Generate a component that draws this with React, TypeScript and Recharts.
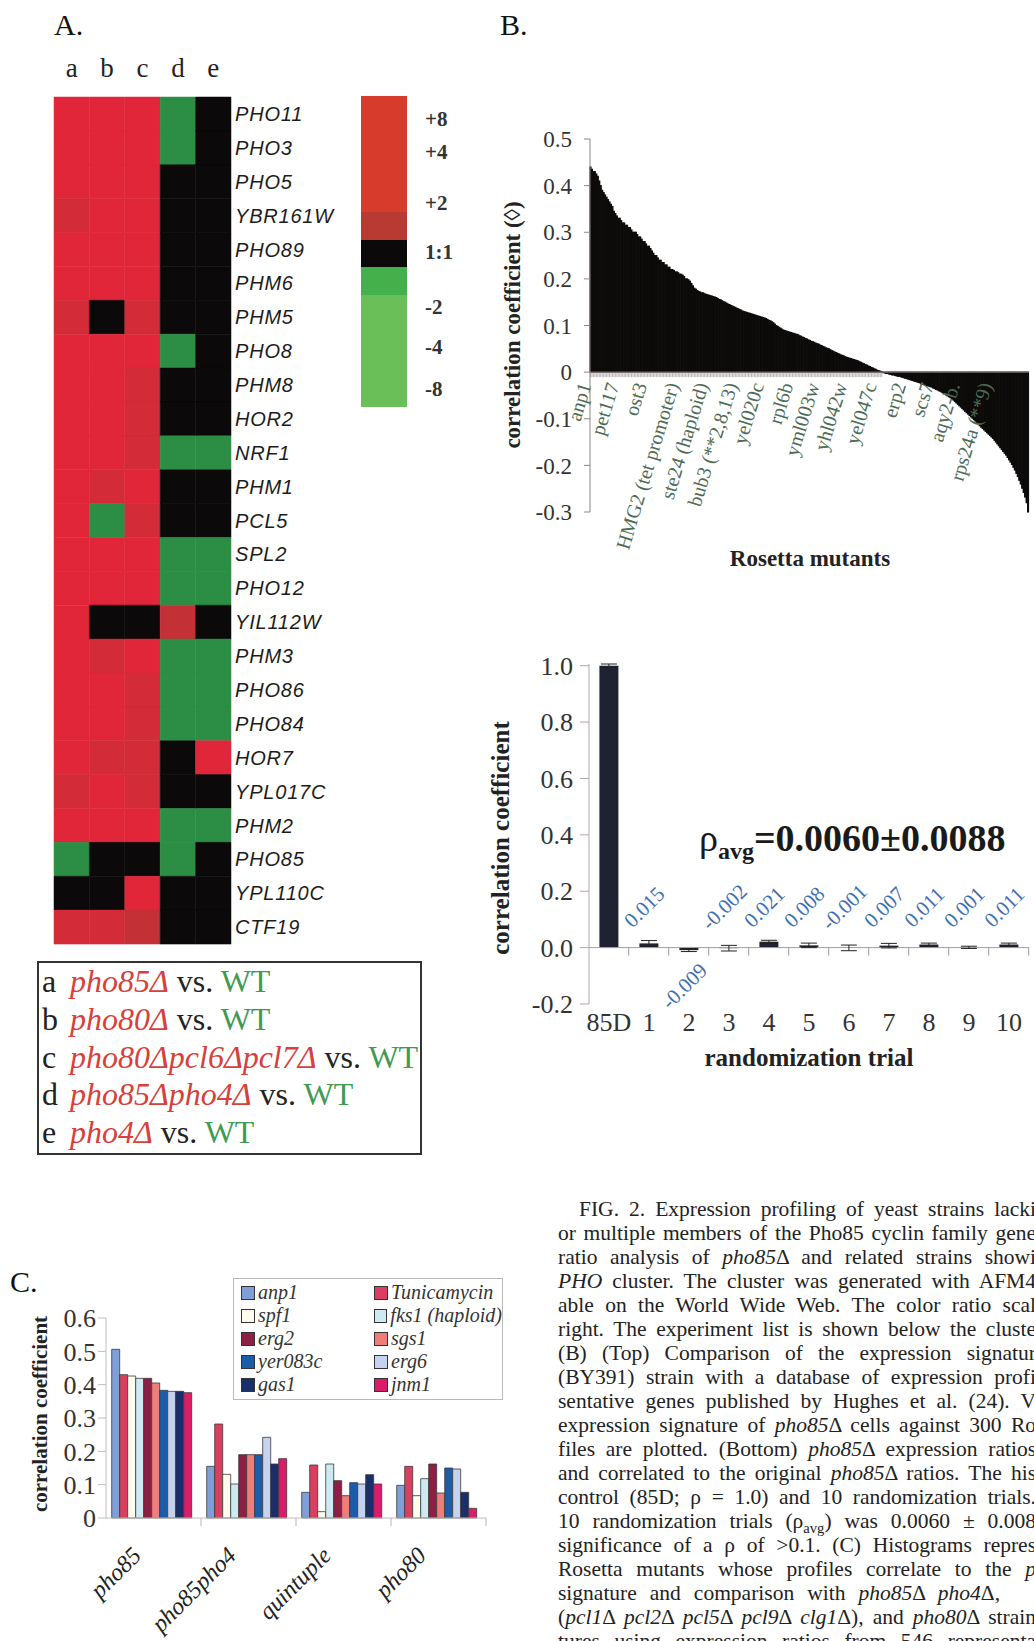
import React from 'react';
import {
  Bar,
  BarChart,
  Cell,
  ErrorBar,
  LabelList,
  Legend,
  ReferenceLine,
  XAxis,
  YAxis,
} from 'recharts';

const SERIF = '"Liberation Serif", "Times New Roman", Times, serif';
const SANS = '"Liberation Sans", Arial, Helvetica, sans-serif';

// ---------- A. PHO cluster ----------
const heatGenes = [
  'PHO11', 'PHO3', 'PHO5', 'YBR161W', 'PHO89', 'PHM6', 'PHM5', 'PHO8', 'PHM8',
  'HOR2', 'NRF1', 'PHM1', 'PCL5', 'SPL2', 'PHO12', 'YIL112W', 'PHM3', 'PHO86',
  'PHO84', 'HOR7', 'YPL017C', 'PHM2', 'PHO85', 'YPL110C', 'CTF19',
];
const heatExperiments = ['a', 'b', 'c', 'd', 'e'];
// ratio class per gene: R induced, r / q weaker induction, K 1:1, G repressed
const colA = ['R','R','R','r','R','R','r','R','R','R','R','R','R','R','R','R','R','R','R','R','r','R','G','K','r'];
const colB = ['R','R','R','R','R','R','K','R','R','R','R','r','G','R','R','K','r','R','R','r','R','R','K','K','r'];
const colC = ['R','R','R','R','R','R','r','R','r','r','r','R','r','R','R','K','R','r','r','r','r','R','K','R','q'];
const colD = ['G','G','K','K','K','K','K','G','K','K','G','K','K','G','G','q','G','G','G','K','K','G','G','K','K'];
const colE = ['K','K','K','K','K','K','K','K','K','K','G','K','K','G','G','K','G','G','G','R','K','G','K','K','K'];
const heatCols = [colA, colB, colC, colD, colE];
const heatColor: Record<string, string> = {
  R: '#e2263a',
  r: '#d32b38',
  q: '#c33036',
  K: '#0b0909',
  G: '#2c8e45',
};

// colour ratio scale, bottom to top
const scaleBandColors = ['#6abf58', '#43b04b', '#0b0909', '#b93a33', '#d63b2c'];
const scaleBandSpans = [112, 28, 27, 28, 116];
const scaleTickValues = [18, 60, 100, 155, 204, 255, 288];
const scaleTickLabels = ['-8', '-4', '-2', '1:1', '+2', '+4', '+8'];

const strainKeys = ['a', 'b', 'c', 'd', 'e'];
const strainNames = ['pho85Δ', 'pho80Δ', 'pho80Δpcl6Δpcl7Δ', 'pho85Δpho4Δ', 'pho4Δ'];

// ---------- B (top). pho85Δ vs 300 Rosetta profiles, sorted ----------
const mutantCorr = [
  0.44, 0.435, 0.43, 0.43, 0.425, 0.42, 0.41, 0.40, 0.39, 0.385,
  0.38, 0.375, 0.37, 0.365, 0.36, 0.355, 0.345, 0.34, 0.335, 0.33,
  0.33, 0.325, 0.32, 0.32, 0.315, 0.315, 0.31, 0.31, 0.305, 0.30,
  0.30, 0.30, 0.295, 0.29, 0.29, 0.285, 0.28, 0.28, 0.275, 0.27,
  0.27, 0.265, 0.26, 0.255, 0.25, 0.25, 0.245, 0.24, 0.24, 0.235,
  0.235, 0.23, 0.23, 0.225, 0.225, 0.22, 0.22, 0.218, 0.215, 0.215,
  0.213, 0.21, 0.21, 0.208, 0.205, 0.20, 0.20, 0.198, 0.195, 0.19,
  0.185, 0.18, 0.178, 0.175, 0.173, 0.172, 0.17, 0.17, 0.168, 0.167,
  0.166, 0.165, 0.164, 0.163, 0.162, 0.161, 0.16, 0.158, 0.156, 0.155,
  0.153, 0.151, 0.15, 0.148, 0.146, 0.145, 0.143, 0.142, 0.14, 0.139,
  0.137, 0.136, 0.134, 0.133, 0.131, 0.13, 0.129, 0.128, 0.127, 0.126,
  0.125, 0.124, 0.123, 0.122, 0.121, 0.12, 0.119, 0.118, 0.117, 0.116,
  0.115, 0.113, 0.111, 0.11, 0.108, 0.106, 0.103, 0.1, 0.098, 0.096,
  0.094, 0.092, 0.09, 0.089, 0.088, 0.087, 0.086, 0.085, 0.084, 0.083,
  0.082, 0.081, 0.08, 0.078, 0.077, 0.075, 0.074, 0.072, 0.071, 0.069,
  0.068, 0.066, 0.065, 0.064, 0.062, 0.061, 0.06, 0.058, 0.057, 0.055,
  0.054, 0.052, 0.051, 0.05, 0.048, 0.046, 0.045, 0.043, 0.042, 0.04,
  0.039, 0.037, 0.036, 0.035, 0.033, 0.032, 0.031, 0.03, 0.029, 0.028,
  0.027, 0.026, 0.025, 0.024, 0.022, 0.021, 0.019, 0.018, 0.016, 0.015,
  0.013, 0.012, 0.01, 0.009, 0.007, 0.006, 0.004, 0.003, 0.002, 0.001,
  -0.001, -0.002, -0.003, -0.003, -0.004, -0.005, -0.006, -0.006, -0.007, -0.008,
  -0.009, -0.009, -0.01, -0.011, -0.012, -0.013, -0.014, -0.015, -0.016, -0.017,
  -0.018, -0.019, -0.02, -0.021, -0.022, -0.023, -0.025, -0.026, -0.027, -0.028,
  -0.029, -0.03, -0.031, -0.032, -0.034, -0.035, -0.037, -0.038, -0.04, -0.041,
  -0.043, -0.045, -0.047, -0.049, -0.051, -0.053, -0.055, -0.057, -0.06, -0.063,
  -0.066, -0.069, -0.072, -0.075, -0.078, -0.081, -0.084, -0.087, -0.09, -0.093,
  -0.096, -0.099, -0.102, -0.105, -0.108, -0.111, -0.115, -0.118, -0.121, -0.124,
  -0.127, -0.13, -0.133, -0.136, -0.139, -0.142, -0.146, -0.15, -0.154, -0.158,
  -0.162, -0.166, -0.17, -0.174, -0.178, -0.183, -0.188, -0.193, -0.198, -0.204,
  -0.21, -0.217, -0.224, -0.232, -0.24, -0.249, -0.258, -0.268, -0.28, -0.30,
];
const mutantLabelIndex = [0, 19, 38, 60, 80, 100, 118, 138, 156, 175, 195, 215, 234, 252, 274];
const mutantLabelNames = [
  'anp1', 'pet117', 'ost3', 'HMG2 (tet promoter)', 'ste24 (haploid)', 'bub3 (**2,8,13)',
  'yel020c', 'rpl6b', 'yml003w', 'yhl042w', 'yel047c', 'erp2', 'scs7', 'aqy2-b.', 'rps24a (**9)',
];
const mutantTicks = [-0.3, -0.2, -0.1, 0, 0.1, 0.2, 0.3, 0.4, 0.5];

// ---------- B (bottom). randomization trials ----------
const trialNames = ['85D', '1', '2', '3', '4', '5', '6', '7', '8', '9', '10'];
const trialCorr = [1.0, 0.015, -0.009, -0.002, 0.021, 0.008, -0.001, 0.007, 0.011, 0.001, 0.011];
const trialErr = [0.006, 0.01, 0.005, 0.01, 0.005, 0.008, 0.01, 0.008, 0.005, 0.004, 0.005];
const trialTicks = [-0.2, 0, 0.2, 0.4, 0.6, 0.8, 1.0];
const TRIAL_GAP = 0.26;

// ---------- C. top Rosetta hits vs related strains ----------
const strainGroups = ['pho85', 'pho85pho4', 'quintuple', 'pho80'];
const hitNames = ['anp1', 'Tunicamycin', 'spf1', 'fks1 (haploid)', 'erg2', 'sgs1', 'yer083c', 'erg6', 'gas1', 'jnm1'];
const hitColors = ['#7f9fd8', '#d9405f', '#fffcef', '#cdeaf3', '#8c1f43', '#ef7d79', '#1b5cab', '#c6d3ee', '#1a2e6a', '#d91d69'];
const anp1 = [0.506, 0.155, 0.077, 0.098];
const tunicamycin = [0.43, 0.282, 0.159, 0.155];
const spf1 = [0.426, 0.131, 0.019, 0.067];
const fks1 = [0.419, 0.102, 0.162, 0.118];
const erg2 = [0.419, 0.19, 0.112, 0.162];
const sgs1 = [0.405, 0.19, 0.067, 0.075];
const yer083c = [0.383, 0.19, 0.106, 0.15];
const erg6 = [0.38, 0.242, 0.102, 0.147];
const gas1 = [0.38, 0.162, 0.13, 0.077];
const jnm1 = [0.376, 0.178, 0.102, 0.029];
const hitValues = [anp1, tunicamycin, spf1, fks1, erg2, sgs1, yer083c, erg6, gas1, jnm1];
const hitTicks = [0, 0.1, 0.2, 0.3, 0.4, 0.5, 0.6];

const captionLines = [
  'FIG. 2. Expression profiling of yeast strains lacki',
  'or multiple members of the Pho85 cyclin family gene',
  'ratio analysis of *pho85*Δ and related strains showi',
  '*PHO* cluster. The cluster was generated with AFM4',
  'able on the World Wide Web. The color ratio scal',
  'right. The experiment list is shown below the cluste',
  '(B) (Top) Comparison of the expression signatur',
  '(BY391) strain with a database of expression profi',
  'sentative genes published by Hughes et al. (24). V',
  'expression signature of *pho85*Δ cells against 300 Ro',
  'files are plotted. (Bottom) *pho85*Δ expression ratios',
  'and correlated to the original *pho85*Δ ratios. The his',
  'control (85D; ρ = 1.0) and 10 randomization trials.',
  '10 randomization trials (ρ~avg~) was 0.0060 ± 0.008',
  'significance of a ρ of >0.1. (C) Histograms repres',
  'Rosetta mutants whose profiles correlate to the *p*',
  'signature and comparison with *pho85*Δ *pho4*Δ,',
  '(*pcl1*Δ *pcl2*Δ *pcl5*Δ *pcl9*Δ *clg1*Δ), and *pho80*Δ strain',
  'tures using expression ratios from 546 representa',
];

// ---------- derived tables ----------
const heatData = heatGenes.map((gene) => ({ gene, a: 1, b: 1, c: 1, d: 1, e: 1 }));
const scaleData = [
  scaleBandSpans.reduce<Record<string, number | string>>(
    (row, span, i) => ({ ...row, [`s${i}`]: span }),
    { key: 'ratio' },
  ),
];
const mutantData = mutantCorr.map((corr, i) => {
  const k = mutantLabelIndex.indexOf(i);
  return { idx: i, corr, label: k >= 0 ? mutantLabelNames[k] : '' };
});
const trialData = trialNames.map((trial, i) => ({ trial, value: trialCorr[i], err: trialErr[i] }));
const hitData = strainGroups.map((group, g) => {
  const row: Record<string, number | string> = { group };
  hitNames.forEach((n, s) => {
    row[n] = hitValues[s][g];
  });
  return row;
});

function rectOf(props: any) {
  const vb = props.viewBox && props.viewBox.width !== undefined ? props.viewBox : props;
  const { x, y, width, height } = vb;
  return { x: +x, y: +y, width: +width, height: +height, top: Math.min(y, y + height), bottom: Math.max(y, y + height) };
}

// small tick under each bar on the zero line, plus the sparse mutant names
function renderMutantMark(props: any) {
  const idx = props.index ?? 0;
  const r = rectOf(props);
  const v = mutantCorr[idx];
  const zeroY = v >= 0 ? r.bottom : r.top;
  const cx = r.x + r.width / 2;
  const name = props.value;
  return (
    <g key={`mm-${idx}`}>
      {v >= 0 && (
        <line x1={cx} x2={cx} y1={zeroY} y2={zeroY + 5} stroke="#8f8787" strokeWidth={0.6} />
      )}
      {name ? (
        <text
          transform={`translate(${cx + 1},${zeroY + 13}) rotate(-73)`}
          textAnchor="end"
          fontFamily={SERIF}
          fontSize={20}
          fill="#4e6b56"
        >
          {name}
        </text>
      ) : null}
    </g>
  );
}

function renderTrialMark(props: any) {
  const idx = props.index ?? 0;
  const r = rectOf(props);
  const v = trialCorr[idx];
  const zeroY = v >= 0 ? r.bottom : r.top;
  const cx = r.x + r.width / 2;
  const band = r.width / (1 - 2 * TRIAL_GAP);
  const below = v < -0.005;
  return (
    <g key={`tm-${idx}`}>
      <line x1={cx + band / 2} x2={cx + band / 2} y1={zeroY} y2={zeroY + 8} stroke="#a89c9c" strokeWidth={1} />
      {idx > 0 && (
        <text
          transform={`translate(${cx - 3},${below ? zeroY + 40 : zeroY - 39}) rotate(-45)`}
          textAnchor="middle"
          dominantBaseline="middle"
          fontFamily={SERIF}
          fontSize={21}
          fill="#3f6fae"
        >
          {v.toFixed(3)}
        </text>
      )}
    </g>
  );
}

function GroupTick(props: any) {
  const { x, y, payload } = props;
  const half = payload && payload.offset ? payload.offset : 47.5;
  return (
    <g>
      <line x1={x + half} x2={x + half} y1={y} y2={y + 8} stroke="#bdb3b3" strokeWidth={1} />
      <text
        transform={`translate(${x - 11},${y + 39}) rotate(-45)`}
        textAnchor="end"
        fontFamily={SERIF}
        fontStyle="italic"
        fontSize={24}
        fill="#222"
      >
        {payload.value}
      </text>
    </g>
  );
}

function HitLegend({ payload }: any) {
  const items = [...(payload || [])].sort(
    (a: any, b: any) => hitNames.indexOf(a.value) - hitNames.indexOf(b.value),
  );
  return (
    <div
      style={{
        display: 'grid',
        gridTemplateColumns: '133px 128px',
        border: '1px solid #b9b9b9',
        padding: '2px 0 3px 7px',
        background: '#fff',
        fontFamily: SERIF,
        fontStyle: 'italic',
        fontSize: 20,
        color: '#333',
      }}
    >
      {items.map((p: any) => (
        <div key={p.value} style={{ display: 'flex', alignItems: 'center', height: 23, whiteSpace: 'nowrap' }}>
          <span
            style={{
              display: 'inline-block',
              width: 12,
              height: 12,
              background: p.color,
              border: '1px solid #333',
              marginRight: 3,
            }}
          />
          {p.value}
        </div>
      ))}
    </div>
  );
}

function CaptionText({ text }: { text: string }) {
  const parts = text.split(/(\*[^*]+\*|~[^~]+~)/);
  return (
    <>
      {parts.map((p, i) => {
        if (p.startsWith('*')) return <i key={i}>{p.slice(1, -1)}</i>;
        if (p.startsWith('~')) return <sub key={i} style={{ fontSize: '0.68em', lineHeight: 0 }}>{p.slice(1, -1)}</sub>;
        return <React.Fragment key={i}>{p}</React.Fragment>;
      })}
    </>
  );
}

function AxisTitle({ x, y, size, rotate, children }: { x: number; y: number; size: number; rotate?: boolean; children: React.ReactNode }) {
  return (
    <div
      style={{
        position: 'absolute',
        left: x,
        top: y,
        transform: `translate(-50%,-50%)${rotate ? ' rotate(-90deg)' : ''}`,
        whiteSpace: 'nowrap',
        fontFamily: SERIF,
        fontWeight: 'bold',
        fontSize: size,
        lineHeight: 1,
        color: '#222',
      }}
    >
      {children}
    </div>
  );
}

const panelLetter = (text: string, left: number, top: number) => (
  <div style={{ position: 'absolute', left, top, fontFamily: SERIF, fontSize: 30, lineHeight: 1, color: '#111' }}>{text}</div>
);

export default function App() {
  return (
    <div
      style={{
        position: 'absolute',
        left: 0,
        top: 0,
        width: 1034,
        height: 1641,
        overflow: 'hidden',
        background: '#fff',
        fontFamily: SERIF,
      }}
    >
      {panelLetter('A.', 54, 10)}
      {panelLetter('B.', 500, 10)}
      {panelLetter('C.', 10, 1267)}

      {/* A: heat map */}
      <div style={{ position: 'absolute', left: 0, top: 40 }}>
        <BarChart
          width={340}
          height={920}
          data={heatData}
          layout="vertical"
          barCategoryGap={0}
          margin={{ top: 17, right: 0, bottom: 16, left: 54 }}
        >
          <XAxis
            type="number"
            orientation="top"
            domain={[0, 5]}
            ticks={[0.5, 1.5, 2.5, 3.5, 4.5]}
            tickFormatter={(v: number) => heatExperiments[Math.floor(v)]}
            axisLine={false}
            tickLine={false}
            tickSize={0}
            tickMargin={20}
            height={40}
            tick={{ fontFamily: SERIF, fontSize: 27, fill: '#222' }}
          />
          <YAxis
            type="category"
            dataKey="gene"
            orientation="right"
            width={109}
            interval={0}
            axisLine={false}
            tickLine={false}
            tickSize={0}
            tickMargin={4}
            tick={{ fontFamily: SANS, fontStyle: 'italic', fontSize: 20, fill: '#1c1c1c', letterSpacing: 0.8 }}
          />
          {heatExperiments.map((exp, c) => (
            <Bar key={exp} dataKey={exp} stackId="heat" isAnimationActive={false}>
              {heatCols[c].map((code, i) => (
                <Cell key={i} fill={heatColor[code]} stroke={heatColor[code]} strokeWidth={0.5} />
              ))}
            </Bar>
          ))}
        </BarChart>
      </div>

      {/* A: colour ratio scale */}
      <div style={{ position: 'absolute', left: 330, top: 80 }}>
        <BarChart
          width={130}
          height={340}
          data={scaleData}
          barCategoryGap={0}
          margin={{ top: 16, right: 0, bottom: 13, left: 31 }}
        >
          <XAxis dataKey="key" hide />
          <YAxis
            orientation="right"
            width={53}
            domain={[0, 311]}
            ticks={scaleTickValues}
            interval={0}
            tickFormatter={(v: number) => scaleTickLabels[scaleTickValues.indexOf(v)]}
            axisLine={false}
            tickLine={false}
            tickSize={0}
            tickMargin={18}
            tick={{ fontFamily: SERIF, fontWeight: 'bold', fontSize: 21, fill: '#333' }}
          />
          {scaleBandSpans.map((_, i) => (
            <Bar key={i} dataKey={`s${i}`} stackId="scale" fill={scaleBandColors[i]} isAnimationActive={false} />
          ))}
        </BarChart>
      </div>

      {/* A: experiment list */}
      <div
        style={{
          position: 'absolute',
          left: 37,
          top: 961,
          width: 381,
          height: 190,
          border: '2px solid #333',
          fontFamily: SERIF,
          fontSize: 32,
          color: '#222',
        }}
      >
        {strainKeys.map((k, i) => (
          <div key={k} style={{ height: 37.8, lineHeight: '37px', whiteSpace: 'nowrap', paddingLeft: 3 }}>
            <span style={{ display: 'inline-block', width: 28 }}>{k}</span>
            <i style={{ color: '#d8403c' }}>{strainNames[i]}</i>
            <span> vs. </span>
            <span style={{ color: '#3f9a52' }}>WT</span>
          </div>
        ))}
      </div>

      {/* B top: Rosetta comparison */}
      <div style={{ position: 'absolute', left: 480, top: 100 }}>
        <BarChart
          width={554}
          height={480}
          data={mutantData}
          barCategoryGap={0}
          margin={{ top: 39, right: 5, bottom: 68, left: 0 }}
        >
          <XAxis dataKey="idx" hide />
          <YAxis
            width={110}
            domain={[-0.3, 0.5]}
            ticks={mutantTicks}
            interval={0}
            tickFormatter={(v: number) => (v === 0 ? '0' : v.toFixed(1))}
            axisLine={{ stroke: '#8f8585' }}
            tickLine={{ stroke: '#8f8585' }}
            tickSize={6}
            tickMargin={12}
            tick={{ fontFamily: SERIF, fontSize: 23, fill: '#333' }}
          />
          <ReferenceLine y={0} stroke="#8f8585" strokeWidth={1} />
          <Bar dataKey="corr" fill="#0d0a0a" stroke="#0d0a0a" strokeWidth={1.1} isAnimationActive={false}>
            <LabelList dataKey="label" content={renderMutantMark} />
          </Bar>
        </BarChart>
      </div>
      <AxisTitle x={512} y={325} size={23} rotate>correlation coefficient (◊)</AxisTitle>
      <AxisTitle x={810} y={558} size={23}>Rosetta mutants</AxisTitle>

      {/* B bottom: randomization trials */}
      <div style={{ position: 'absolute', left: 480, top: 620 }}>
        <BarChart
          width={554}
          height={440}
          data={trialData}
          barCategoryGap={`${TRIAL_GAP * 100}%`}
          margin={{ top: 44, right: 5, bottom: 0, left: 0 }}
        >
          <XAxis
            dataKey="trial"
            height={56}
            interval={0}
            axisLine={false}
            tickLine={false}
            tickSize={0}
            tickMargin={9}
            tick={{ fontFamily: SERIF, fontSize: 26, fill: '#333' }}
          />
          <YAxis
            width={109}
            domain={[-0.2, 1]}
            ticks={trialTicks}
            interval={0}
            tickFormatter={(v: number) => v.toFixed(1)}
            axisLine={{ stroke: '#b3a7a7' }}
            tickLine={{ stroke: '#b3a7a7' }}
            tickSize={9}
            tickMargin={7}
            tick={{ fontFamily: SERIF, fontSize: 26, fill: '#333' }}
          />
          <ReferenceLine y={0} stroke="#a89c9c" strokeWidth={1} />
          <Bar dataKey="value" fill="#1f2230" isAnimationActive={false}>
            <ErrorBar dataKey="err" direction="y" width={8} stroke="#222" strokeWidth={1} />
            <LabelList dataKey="value" content={renderTrialMark} />
          </Bar>
        </BarChart>
      </div>
      <div
        style={{
          position: 'absolute',
          left: 699,
          top: 819,
          fontFamily: SERIF,
          fontSize: 38,
          lineHeight: '38px',
          whiteSpace: 'nowrap',
          color: '#1a1a1a',
        }}
      >
        ρ
        <sub style={{ fontSize: 24, fontWeight: 'bold', lineHeight: 0, verticalAlign: '-0.35em' }}>avg</sub>
        <b>=0.0060±0.0088</b>
      </div>
      <AxisTitle x={500} y={838} size={25} rotate>correlation coefficient</AxisTitle>
      <AxisTitle x={809} y={1057} size={25}>randomization trial</AxisTitle>

      {/* C: grouped histogram */}
      <div style={{ position: 'absolute', left: 0, top: 1260 }}>
        <BarChart
          width={520}
          height={381}
          data={hitData}
          barCategoryGap="6%"
          barGap={0}
          margin={{ top: 58, right: 34, bottom: 0, left: 0 }}
        >
          <XAxis
            dataKey="group"
            height={123}
            interval={0}
            axisLine={{ stroke: '#c4bcbc' }}
            tickLine={false}
            tickSize={0}
            tickMargin={0}
            tick={<GroupTick />}
          />
          <YAxis
            width={106}
            domain={[0, 0.6]}
            ticks={hitTicks}
            interval={0}
            tickFormatter={(v: number) => (v === 0 ? '0' : v.toFixed(1))}
            axisLine={{ stroke: '#c4bcbc' }}
            tickLine={{ stroke: '#c4bcbc' }}
            tickSize={8}
            tickMargin={2}
            tick={{ fontFamily: SERIF, fontSize: 26, fill: '#333' }}
          />
          <Legend
            layout="horizontal"
            verticalAlign="middle"
            align="center"
            content={<HitLegend />}
            wrapperStyle={{ left: 233, top: 18, width: 270 }}
          />
          {hitNames.map((n, s) => (
            <Bar key={n} dataKey={n} name={n} fill={hitColors[s]} stroke="#3a3a3a" strokeWidth={0.8} isAnimationActive={false} />
          ))}
        </BarChart>
      </div>
      <AxisTitle x={40} y={1414} size={21} rotate>correlation coefficient</AxisTitle>

      {/* caption */}
      <div
        style={{
          position: 'absolute',
          left: 558,
          top: 1197,
          fontFamily: SERIF,
          fontSize: 21.5,
          lineHeight: '24px',
          color: '#222',
        }}
      >
        {captionLines.map((line, i) => (
          <div
            key={i}
            style={{
              height: 24,
              whiteSpace: 'nowrap',
              width: i === 0 ? 457 : i === 16 ? 442 : 478,
              marginLeft: i === 0 ? 21 : 0,
              textAlign: 'justify',
              textAlignLast: 'justify',
            }}
          >
            <CaptionText text={line} />
          </div>
        ))}
      </div>
    </div>
  );
}
